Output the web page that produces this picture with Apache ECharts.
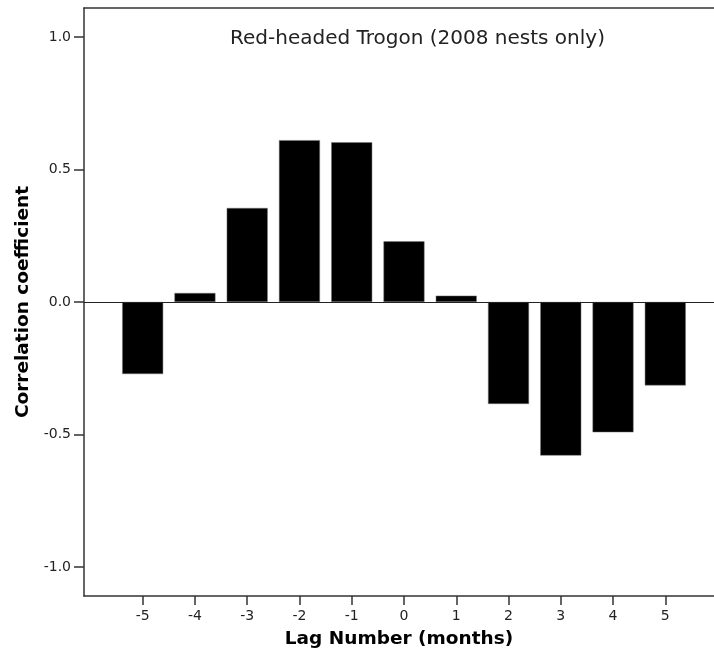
<!DOCTYPE html>
<html>
<head>
<meta charset="utf-8">
<script src="https://cdn.jsdelivr.net/npm/echarts@6/dist/echarts.min.js"></script>
<style>
  html, body { margin: 0; padding: 0; background: #fff; }
  #chart { width: 714px; height: 657px; }
</style>
</head>
<body>
<div id="chart"></div>
<script>
// lag (months) and correlation per lag
const lags = [-5, -4, -3, -2, -1, 0, 1, 2, 3, 4, 5]
const corr = [-0.272, 0.034, 0.355, 0.611, 0.603, 0.229, 0.024, -0.385, -0.580, -0.492, -0.315]
const yTicks = [-1, -0.5, 0, 0.5, 1]

const chart = echarts.init(document.getElementById('chart'))
const font = 'DejaVu Sans, Verdana, sans-serif'
const axisColor = '#333'

const option = {
  animation: false,
  title: {
    text: 'Red-headed Trogon (2008 nests only)',
    left: 225,
    top: 24,
    textStyle: { fontFamily: font, fontSize: 20, fontWeight: 'normal', color: '#222' }
  },
  grid: {
    left: 84,
    top: 8,
    right: 0,
    bottom: 61
  },
  xAxis: [{
    type: 'value',
    min: -6.123,
    max: 5.932,
    name: 'Lag Number (months)',
    nameLocation: 'middle',
    nameGap: 34,
    nameTextStyle: { fontFamily: font, fontSize: 18.5, fontWeight: 'bold', color: '#000' },
    splitLine: { show: false },
    axisLine: { onZero: false, lineStyle: { color: axisColor, width: 1.5 } },
    axisTick: { customValues: lags, length: 9, lineStyle: { color: axisColor, width: 1.5 } },
    axisLabel: { customValues: lags, fontFamily: font, fontSize: 14, color: '#222', margin: 13 }
  }, {
    // top frame line
    type: 'value',
    position: 'top',
    min: -6.123,
    max: 5.932,
    splitLine: { show: false },
    axisLine: { onZero: false, lineStyle: { color: axisColor, width: 1.5 } },
    axisTick: { show: false },
    axisLabel: { show: false }
  }],
  yAxis: {
    type: 'value',
    min: -1.11,
    max: 1.11,
    name: 'Correlation coefficient',
    nameLocation: 'middle',
    nameGap: 48,
    nameTextStyle: { fontFamily: font, fontSize: 18.5, fontWeight: 'bold', color: '#000' },
    splitLine: { show: false },
    axisLine: { onZero: false, lineStyle: { color: axisColor, width: 1.5 } },
    axisTick: { customValues: yTicks, length: 10, lineStyle: { color: axisColor, width: 1.5 } },
    axisLabel: {
      customValues: yTicks,
      fontFamily: font, fontSize: 14, color: '#222', margin: 13,
      formatter: v => v.toFixed(1)
    }
  },
  series: [{
    type: 'bar',
    data: lags.map((l, i) => [l, corr[i]]),
    barWidth: 41,
    itemStyle: { color: '#000', borderColor: '#777', borderWidth: 0.5 },
    markLine: {
      silent: true,
      symbol: 'none',
      label: { show: false },
      lineStyle: { color: '#222', width: 1.2, type: 'solid' },
      data: [{ yAxis: 0 }]
    }
  }]
}

chart.setOption(option)
</script>
</body>
</html>
